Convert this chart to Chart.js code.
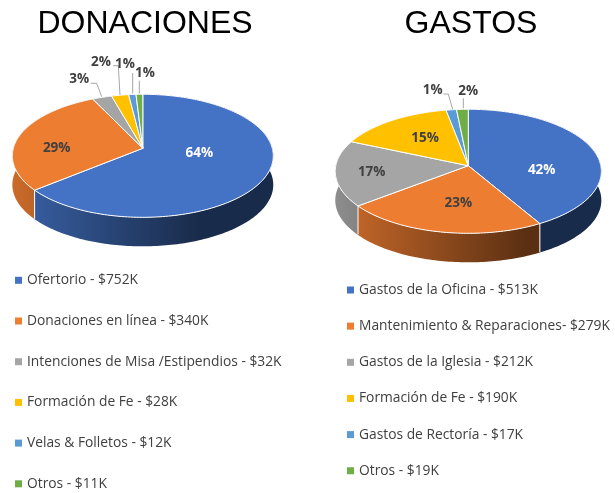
<!DOCTYPE html>
<html><head><meta charset="utf-8">
<script src="https://cdn.jsdelivr.net/npm/chart.js@4/dist/chart.umd.min.js"></script>
<style>html,body{margin:0;padding:0;background:#fff;overflow:hidden}
canvas{position:absolute;top:0}</style></head>
<body>
<canvas id="don" width="290" height="493" style="left:0;width:290px;height:493px"></canvas>
<canvas id="gas" width="288" height="493" style="left:327px;width:288px;height:493px"></canvas>
<script>
const donLabels = ["Ofertorio - $752K","Donaciones en línea - $340K","Intenciones de Misa /Estipendios - $32K","Formación de Fe - $28K","Velas & Folletos - $12K","Otros - $11K"];
const donValues = [752,340,32,28,12,11];
const gasLabels = ["Gastos de la Oficina - $513K","Mantenimiento & Reparaciones- $279K","Gastos de la Iglesia - $212K","Formación de Fe - $190K","Gastos de Rectoría - $17K","Otros - $19K"];
const gasValues = [513,279,212,190,17,19];
const sliceColors = ["#4472C4","#ED7D31","#A5A5A5","#FFC000","#5B9BD5","#70AD47"];

const TEXT = "#404040", LEADER = "#a6a6a6";
const donLayout = {
  ox:0, cx:142.8, cy:148.3, a:129.5, b:60.6, p:0.122, depth:29,
  left:12, width:261,
  labelPos:[[199.3,152.7],[56.7,147.7],[79.3,79.3],[101,62.3],[125,64.3],[145,73.3]],
  labelWhite:[true,false,false,false,false,false],
  leaders:[[[90.7,83.3],[96.7,83.3],[101.7,96.7]],[[113,65.7],[118.3,65.7],[120,95]],[[132.7,73],[132.7,93.5]],[[139.3,80.7],[139.3,93.5]]],
  legend:{mx:15,tx:27,y0:280.3,step:40.7}
};
const gasLayout = {
  ox:327, cx:468.3, cy:165.7, a:132.5, b:61.5, p:0.0903, depth:29,
  left:336, width:266,
  labelPos:[[541.7,170],[458.3,203.3],[371.7,172.3],[425,138.3],[432.7,90],[468.3,90.7]],
  labelWhite:[true,false,false,false,false,false],
  leaders:[[[443.3,94],[448.3,94],[452.7,109.3]],[[463.3,98.3],[463.3,108.3]]],
  legend:{mx:347,tx:359,y0:290,step:36.15}
};

function shade(hex,f){
  const n=parseInt(hex.slice(1),16);
  return `rgb(${((n>>16)&255)*f|0},${((n>>8)&255)*f|0},${(n&255)*f|0})`;
}
const pie3d = {
  id:'pie3d',
  beforeDatasetDraw(){ return false; },
  afterDatasetsDraw(chart,args,o){
    const L=o.layout, ctx=chart.ctx, arcs=chart.getDatasetMeta(0).data;
    const values=chart.data.datasets[0].data, colors=chart.data.datasets[0].backgroundColor;
    const total=values.reduce((s,v)=>s+v,0);
    const pt=(phi)=>{
      const u=Math.cos(phi), v=Math.sin(phi), w=1-L.p*v;
      return [L.cx+L.a*u/w, L.cy+L.b*v/w];
    };
    const samples=(s,e)=>{
      const n=Math.max(2,Math.ceil((e-s)/0.02)), r=[];
      for(let i=0;i<=n;i++) r.push(pt(s+(e-s)*i/n));
      return r;
    };
    ctx.save();
    ctx.translate(-L.ox,0);
    // side wall
    arcs.forEach((el,i)=>{
      const pts=samples(el.startAngle,el.endAngle);
      const g=ctx.createLinearGradient(L.left,0,L.left+L.width,0);
      g.addColorStop(0,shade(colors[i],0.86));
      g.addColorStop(0.72,shade(colors[i],0.38));
      g.addColorStop(1,shade(colors[i],0.38));
      ctx.beginPath();
      pts.forEach((q,k)=>k?ctx.lineTo(q[0],q[1]):ctx.moveTo(q[0],q[1]));
      for(let k=pts.length-1;k>=0;k--) ctx.lineTo(pts[k][0],pts[k][1]+L.depth);
      ctx.closePath();
      ctx.fillStyle=g; ctx.fill();
    });
    // white seams on the wall
    ctx.strokeStyle="#fff"; ctx.lineWidth=1;
    arcs.forEach((el)=>{
      if(Math.sin(el.endAngle)>0.05){
        const q=pt(el.endAngle);
        ctx.beginPath(); ctx.moveTo(q[0],q[1]); ctx.lineTo(q[0],q[1]+L.depth-0.5); ctx.stroke();
      }
    });
    // top faces
    arcs.forEach((el,i)=>{
      const pts=samples(el.startAngle,el.endAngle);
      ctx.beginPath(); ctx.moveTo(L.cx,L.cy);
      pts.forEach(q=>ctx.lineTo(q[0],q[1]));
      ctx.closePath();
      ctx.fillStyle=colors[i]; ctx.fill();
      ctx.strokeStyle="#fff"; ctx.lineWidth=1; ctx.lineJoin="round"; ctx.stroke();
    });
    // leader lines
    ctx.strokeStyle=LEADER; ctx.lineWidth=1;
    L.leaders.forEach(l=>{
      ctx.beginPath();
      l.forEach((q,k)=>k?ctx.lineTo(q[0],q[1]):ctx.moveTo(q[0],q[1]));
      ctx.stroke();
    });
    // percentage labels
    ctx.font="bold 13.5px 'Open Sans'"; ctx.textAlign="center"; ctx.textBaseline="middle";
    values.forEach((v,i)=>{
      ctx.fillStyle=L.labelWhite[i]?"#fff":TEXT;
      ctx.fillText(Math.round(v/total*100)+"%",L.labelPos[i][0],L.labelPos[i][1]);
    });
    // legend
    ctx.font="13.8px 'Open Sans'"; ctx.textAlign="left";
    chart.data.labels.forEach((t,i)=>{
      const y=L.legend.y0+i*L.legend.step;
      ctx.fillStyle=colors[i]; ctx.fillRect(L.legend.mx,y-3.5,7,7);
      ctx.fillStyle=TEXT; ctx.fillText(t,L.legend.tx,y);
    });
    ctx.restore();
  }
};
function makePie(id,title,labels,values,layout){
  return new Chart(document.getElementById(id),{
    type:'pie',
    data:{labels,datasets:[{data:values,backgroundColor:sliceColors,borderWidth:0}]},
    options:{
      responsive:false,animation:false,
      layout:{padding:0},
      plugins:{
        legend:{display:false},tooltip:{enabled:false},
        title:{display:true,text:title,color:"#000",
          font:{family:"'Liberation Sans'",size:32,weight:'normal'},padding:{top:5,bottom:5}},
        pie3d:{layout}
      }
    },
    plugins:[pie3d]
  });
}
makePie('don',"DONACIONES",donLabels,donValues,donLayout);
makePie('gas',"GASTOS",gasLabels,gasValues,gasLayout);
</script>
</body></html>
